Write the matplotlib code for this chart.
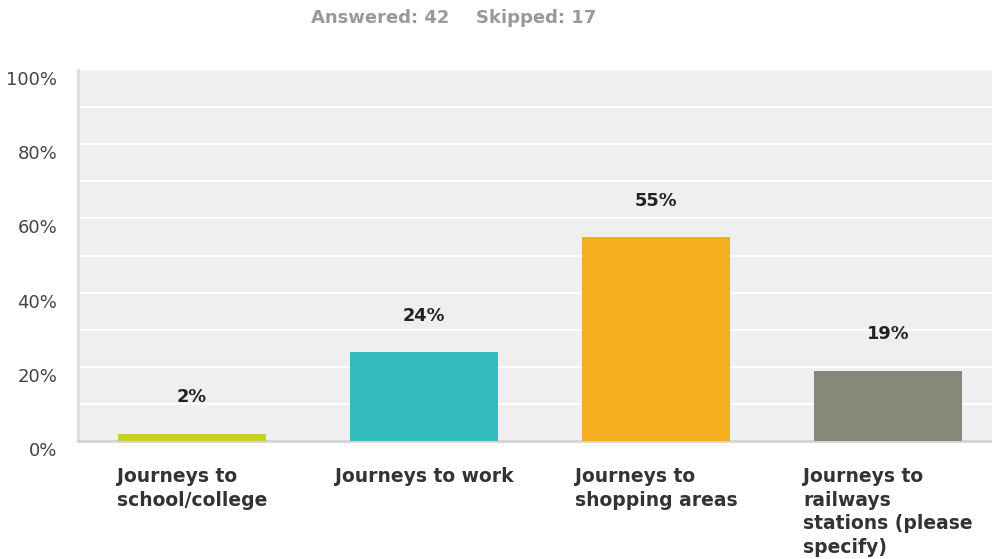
import matplotlib
matplotlib.use("Agg")
import matplotlib.pyplot as plt
from matplotlib.transforms import ScaledTranslation

categories = ["Journeys to\nschool/college", "Journeys to work",
              "Journeys to\nshopping areas",
              "Journeys to\nrailways\nstations (please\nspecify)"]
values = [2, 24, 55, 19]
colors = ["#c8d02a", "#33bdbf", "#f5ae1f", "#878877"]
yticks = [0, 20, 40, 60, 80, 100]
answered = 42
skipped = 17

fig = plt.figure(figsize=(9.92, 5.59), dpi=100)
ax = fig.add_axes([78 / 992, 1 - 441 / 559, 914 / 992, 371 / 559])
ax.set_facecolor("#efefef")

x = range(len(values))
ax.bar(x, values, width=0.638, color=colors, zorder=3)

for xi, v in zip(x, values):
    ax.annotate(f"{v}%", (xi, v), xytext=(0, 26), textcoords="offset points",
                ha="center", va="center", fontsize=12.8, fontweight="bold",
                color="#222222")

ax.set_xlim(-0.491, 3.449)
ax.set_ylim(0, 100)

# white gridlines every 10%, none on the top edge
for g in range(10, 100, 10):
    ax.axhline(g, color="white", linewidth=1.4, zorder=1)

ax.set_yticks(yticks)
ax.set_yticklabels([f"{t}%" for t in yticks], fontsize=13, color="#444444")
ax.tick_params(axis="y", length=0, pad=15)
offset = ScaledTranslation(0, -0.08, fig.dpi_scale_trans)
for lbl in ax.get_yticklabels():
    lbl.set_transform(lbl.get_transform() + offset)

ax.set_xticks(list(x))
ax.set_xticklabels(categories, fontsize=13.5, fontweight="bold",
                   color="#333333", multialignment="left", linespacing=1.3)
ax.tick_params(axis="x", length=0, pad=19)

for side in ["top", "right"]:
    ax.spines[side].set_visible(False)
ax.spines["left"].set_color("#dcdcdc")
ax.spines["left"].set_linewidth(2)
ax.spines["bottom"].set_color("#d4d4d4")
ax.spines["bottom"].set_linewidth(2)

fig.text(311 / 992, 1 - 18 / 559, f"Answered: {answered}", fontsize=13,
         fontweight="bold", color="#999999", ha="left", va="center")
fig.text(476 / 992, 1 - 18 / 559, f"Skipped: {skipped}", fontsize=13,
         fontweight="bold", color="#999999", ha="left", va="center")

fig.savefig("out.png", dpi=100)
